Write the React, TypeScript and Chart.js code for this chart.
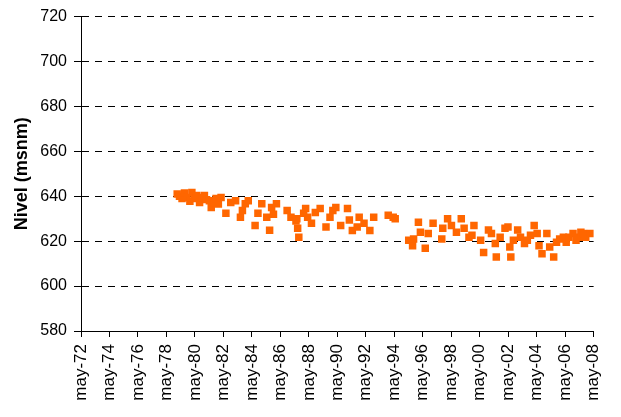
import { useEffect, useRef } from "react";
import { Chart, registerables } from "chart.js";

Chart.register(...registerables);

// Fechas (año decimal) de cada medición
const fechas: number[] = [
  1979.09, 1979.25, 1979.43, 1979.6, 1979.78, 1979.98, 1980.12, 1980.3, 1980.46, 1980.66,
  1980.82, 1981.0, 1981.15, 1981.35, 1981.48, 1981.66, 1981.82, 1981.98, 1982.17, 1982.51,
  1982.85, 1983.19, 1983.53, 1983.67, 1983.87, 1984.08, 1984.56, 1984.76, 1985.03, 1985.38,
  1985.58, 1985.72, 1985.85, 1986.06, 1986.81, 1987.08, 1987.43, 1987.49, 1987.55, 1987.63,
  1987.97, 1988.11, 1988.25, 1988.52, 1988.79, 1989.13, 1989.54, 1989.82, 1990.02, 1990.23,
  1990.57, 1991.05, 1991.18, 1991.39, 1991.73, 1991.87, 1992.21, 1992.62, 1992.89, 1993.91,
  1994.26, 1994.4, 1995.35, 1995.62, 1995.69, 1996.03, 1996.17, 1996.51, 1996.72, 1997.06,
  1997.67, 1997.74, 1998.08, 1998.35, 1998.7, 1999.04, 1999.24, 1999.58, 1999.79, 1999.93,
  2000.4, 2000.61, 2000.95, 2001.16, 2001.43, 2001.5, 2001.77, 2002.11, 2002.32, 2002.45,
  2002.52, 2002.7, 2003.0, 2003.2, 2003.48, 2003.68, 2003.9, 2004.16, 2004.37, 2004.5,
  2004.71, 2005.05, 2005.25, 2005.53, 2005.73, 2005.95, 2006.21, 2006.41, 2006.6, 2006.89,
  2007.1, 2007.3, 2007.44, 2007.62, 2007.78, 2008.12,
];

// Nivel (msnm)
const niveles: number[] = [
  641, 640, 639, 641.5, 639.4, 637.8, 641.7, 639, 640.3, 637.2,
  639.5, 640.3, 638.5, 638, 635, 637, 639, 636.5, 639.4, 632.4,
  637.2, 638, 630.6, 633.7, 636.7, 638, 627, 632.4, 636.7, 630.6,
  624.9, 635, 632, 636.7, 633.7, 630.6, 629, 630, 625.7, 621.7,
  632.4, 634.6, 630.6, 628, 632.8, 634.6, 626.3, 630.6, 633.7, 635,
  627, 634.6, 629.4, 624.8, 626.3, 630.6, 628, 624.8, 630.6, 631.5,
  630.6, 630, 620.4, 618, 621, 628.4, 624, 616.8, 623.4, 628,
  621, 625.7, 630, 627, 624, 630, 625.7, 621.7, 622.6, 627,
  620.4, 615, 625, 623.4, 619, 613, 621.7, 625.7, 626.3, 617.4,
  613, 620.4, 625, 621.7, 619, 620.4, 622.6, 627, 623.4, 618,
  614.4, 623.4, 617.4, 613, 619.5, 621, 621.7, 619.5, 621.7, 623.4,
  620.4, 621.7, 624, 623.4, 621.7, 623.4,
];

const yMin = 580;
const yMax = 720;
const yStep = 20;

const xTickLabels: string[] = [
  "may-72", "may-74", "may-76", "may-78", "may-80", "may-82", "may-84", "may-86", "may-88",
  "may-90", "may-92", "may-94", "may-96", "may-98", "may-00", "may-02", "may-04", "may-06", "may-08",
];

const xTickValues = xTickLabels.map((l) => {
  const yy = parseInt(l.slice(4), 10);
  return (yy < 50 ? 2000 + yy : 1900 + yy) + 4 / 12;
});

const FONT = "'Liberation Sans', Arial, Helvetica, sans-serif";

export default function App() {
  const ref = useRef<HTMLCanvasElement | null>(null);

  useEffect(() => {
    document.body.style.margin = "0";
    const canvas = ref.current;
    if (!canvas) return;
    const chart = new Chart(canvas, {
      type: "scatter",
      data: {
        datasets: [
          {
            label: "Nivel",
            data: fechas.map((x, i) => ({ x, y: niveles[i] })),
            pointStyle: "rect",
            pointRadius: 5.3,
            pointHoverRadius: 5.3,
            backgroundColor: "#FF6600",
            borderColor: "#FF6600",
            borderWidth: 0,
          },
        ],
      },
      options: {
        responsive: false,
        animation: false,
        maintainAspectRatio: false,
        layout: { padding: { top: 15, right: 13, left: 0, bottom: 0 } },
        plugins: { legend: { display: false }, tooltip: { enabled: false } },
        scales: {
          x: {
            type: "linear",
            min: xTickValues[0],
            max: xTickValues[xTickValues.length - 1],
            afterBuildTicks: (scale: any) => {
              scale.ticks = xTickValues.map((v) => ({ value: v }));
            },
            afterFit: (scale: any) => {
              scale.height = 86;
            },
            ticks: {
              autoSkip: false,
              minRotation: 90,
              maxRotation: 90,
              padding: 7,
              color: "#000",
              font: { family: FONT, size: 17 },
              callback: (_v: any, i: number) => xTickLabels[i],
            },
            grid: {
              drawOnChartArea: false,
              drawTicks: true,
              tickLength: 6,
              color: "#000",
              tickColor: "#000",
            },
            border: { color: "#000", width: 1 },
          },
          y: {
            min: yMin,
            max: yMax,
            afterFit: (scale: any) => {
              scale.width = 81;
            },
            ticks: {
              stepSize: yStep,
              padding: 7,
              color: "#000",
              font: { family: FONT, size: 16 },
            },
            grid: {
              color: "#000",
              lineWidth: 1,
              tickLength: 7,
              tickColor: "#000",
              tickBorderDash: [],
            } as any,
            border: { color: "#000", width: 1, dash: [7, 6] },
            title: {
              display: true,
              text: "Nivel (msnm)",
              color: "#000",
              font: { family: FONT, size: 18, weight: "bold" },
              padding: { top: 11, bottom: 0 },
            },
          },
        },
      },
    } as any);
    return () => chart.destroy();
  }, []);

  return (
    <div style={{ position: "fixed", left: 0, top: 0, width: 621, height: 417, background: "#fff" }}>
      <canvas ref={ref} width={621} height={417} style={{ width: 621, height: 417 }} />
    </div>
  );
}
